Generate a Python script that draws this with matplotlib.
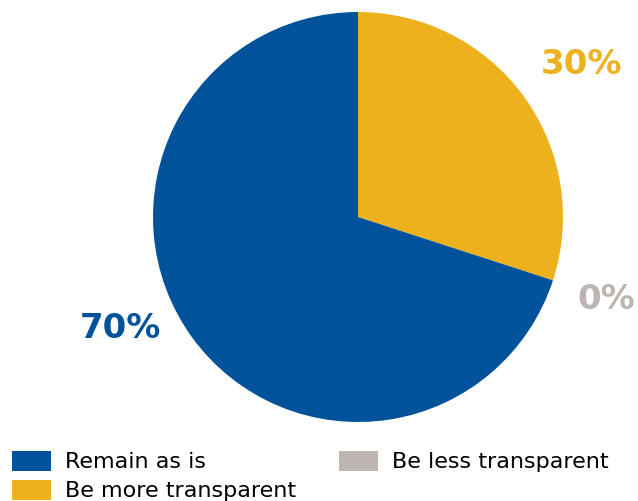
import matplotlib
matplotlib.use("Agg")
import matplotlib.pyplot as plt
from matplotlib.patches import Patch

categories = ["Remain as is", "Be more transparent", "Be less transparent"]
values = [70, 30, 0]
colors = ["#00539B", "#EDB11E", "#BDB5B1"]
labels = ["70%", "30%", "0%"]

plt.rcParams['font.family'] = ['DejaVu Sans']

fig = plt.figure(figsize=(6.38, 5.01), dpi=100)
ax = fig.add_axes([153/638, (501-422)/501, 410/638, 410/501])
# draw pie: yellow clockwise from top, blue remainder
order = [1, 2, 0]
wedges, _ = ax.pie([values[i] for i in order], colors=[colors[i] for i in order],
                   startangle=90, counterclock=False, radius=1,
                   wedgeprops=dict(linewidth=0))
ax.set_xlim(-1, 1)
ax.set_ylim(-1, 1)
ax.set_aspect('equal')
ax.axis('off')

label_pos = {0: (-1.161, -0.544), 1: (1.088, 0.744), 2: (1.210, -0.402)}
for i, lab in enumerate(labels):
    x, y = label_pos[i]
    ax.text(x, y, lab, color=colors[i], fontsize=24.5, fontweight='bold',
            ha='center', va='center', clip_on=False)

handles = [Patch(facecolor=c, edgecolor='none') for c in colors]
leg = fig.legend(handles, categories, ncol=2, loc='upper left',
                 bbox_to_anchor=(12/638, (501-451)/501), frameon=False, fontsize=16,
                 handlelength=1.76, handleheight=0.99, handletextpad=0.63,
                 columnspacing=1.94, labelspacing=0.33, borderaxespad=0, borderpad=0)
fig.savefig("out.png", dpi=100)
